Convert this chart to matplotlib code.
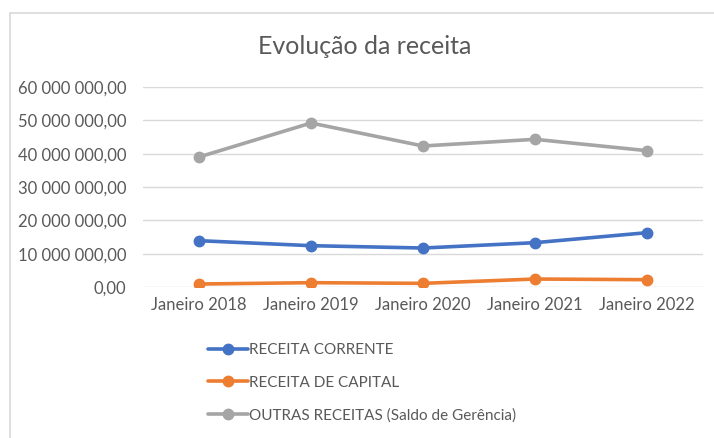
import matplotlib as mpl
mpl.use('Agg')
from matplotlib import pyplot as plt
from matplotlib.ticker import FuncFormatter, MultipleLocator
from matplotlib.patches import Rectangle

plt.rcParams['font.family'] = ['Lato', 'DejaVu Sans']

anos = ['Janeiro 2018', 'Janeiro 2019', 'Janeiro 2020', 'Janeiro 2021', 'Janeiro 2022']
receita_corrente = [13900000, 12400000, 11700000, 13300000, 16300000]
receita_capital = [900000, 1300000, 1100000, 2400000, 2200000]
outras_receitas = [39000000, 49200000, 42300000, 44300000, 40900000]

series = [
    ('RECEITA CORRENTE', receita_corrente, '#4472C4'),
    ('RECEITA DE CAPITAL', receita_capital, '#ED7D31'),
    ('OUTRAS RECEITAS (Saldo de Gerência)', outras_receitas, '#A5A5A5'),
]

txt = '#595959'

fig = plt.figure(figsize=(7.14, 4.38), dpi=100)
ax = fig.add_axes([0.2003, 0.3447, 0.7843, 0.4567])

x = list(range(len(anos)))
handles = []
for nome, vals, cor in series:
    h, = ax.plot(x, vals, color=cor, lw=2.6, marker='o', ms=7.5,
                 solid_capstyle='round', label=nome, zorder=3)
    handles.append(h)

# eixo y no formato portugues
def fmt(v, pos):
    s = f'{v:,.2f}'
    return s.replace(',', ' ').replace('.', ',')

ax.set_ylim(0, 60000000)
ax.yaxis.set_major_locator(MultipleLocator(10000000))
ax.yaxis.set_major_formatter(FuncFormatter(fmt))
ax.set_xlim(-0.5, len(anos) - 0.5)
ax.set_xticks(x)
ax.set_xticklabels(anos)
ax.grid(axis='y', color='#D9D9D9', lw=1)
ax.set_axisbelow(True)
for sp in ax.spines.values():
    sp.set_visible(False)
ax.tick_params(axis='both', length=0, colors=txt, labelsize=12)
ax.tick_params(axis='y', pad=12)
ax.tick_params(axis='x', pad=7)

fig.text(0.511, 1 - 47 / 438, 'Evolução da receita', ha='center', va='center',
         fontsize=18, color=txt)

fig.legend(handles=handles, loc='upper left',
           bbox_to_anchor=(208 / 714, 1 - 343 / 438), frameon=False,
           fontsize=11, labelcolor=txt, handlelength=2.6,
           handletextpad=0.1, labelspacing=1.22, borderpad=0, borderaxespad=0)

# borda do grafico (apenas topo e esquerda visiveis)
fig.patches.append(Rectangle((10 / 714, -0.1), 1.2, 1.1 - 13 / 438,
                             transform=fig.transFigure, fill=False,
                             edgecolor='#D9D9D9', lw=1.2))

plt.savefig('out.png', dpi=100)
